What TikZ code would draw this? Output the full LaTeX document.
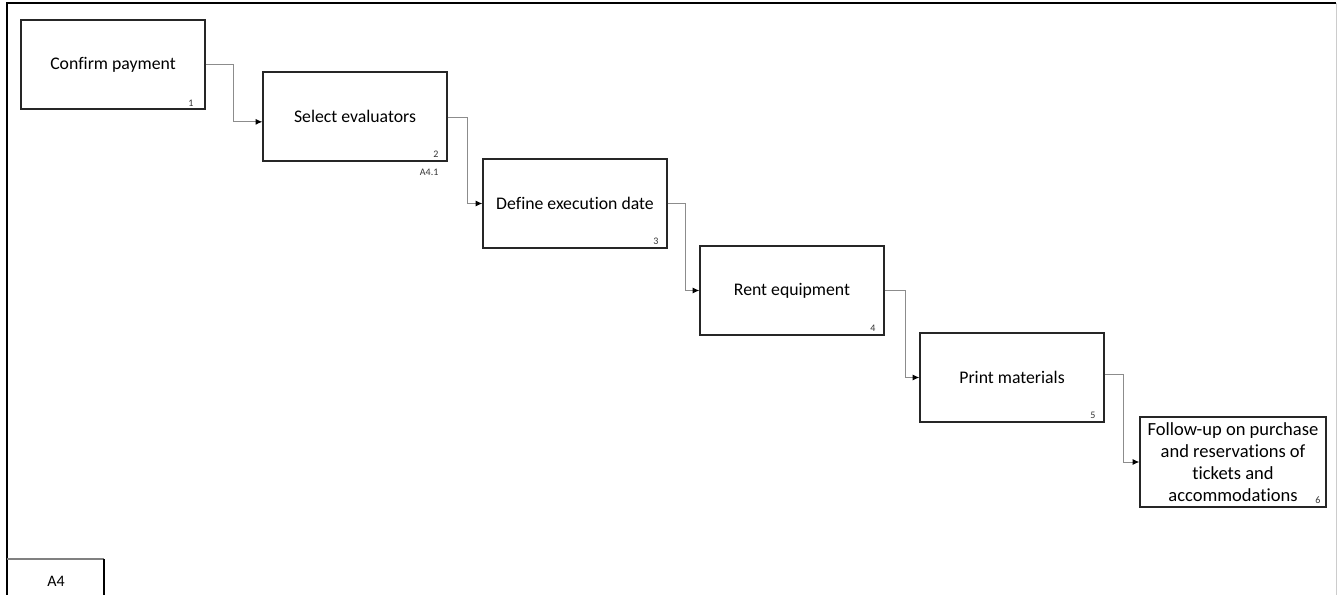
\documentclass[tikz,border=0pt]{standalone}
\usepackage{fontspec}
\setmainfont{Carlito}[Ligatures=CommonOff]
\usetikzlibrary{arrows.meta}

\begin{document}
\begin{tikzpicture}[x=0.75pt,y=-0.75pt,
  proc/.style={draw=black!85, line width=1pt, fill=white,
    minimum width=138pt, minimum height=66.75pt, inner sep=2pt,
    align=center, font=\fontsize{13.3}{16.5}\selectfont},
  num/.style={inner sep=0pt, anchor=south east, text=black!80,
    font=\fontsize{7.5}{8}\selectfont},
  conn/.style={draw=black!45, line width=0.75pt,
    -{Latex[length=5pt,width=4.5pt,black]}}]
  \useasboundingbox (0,0) rectangle (1337,595);

  % page frame
  \draw[black!20, line width=0.75pt] (1336,3) -- (1336,595);
  \draw[black, line width=1.6pt] (7,595) -- (7,3) -- (1336,3);

  % diagram id tab
  \draw[black!50, line width=1.2pt] (7,559) -- (104,559);
  \draw[black, line width=1pt] (104,559) -- (104,595);
  \node[font=\fontsize{12}{14}\selectfont] (tab) at (56,581) {A4};

  % activities
  \node[proc] (b1) at (113,64.5)  {Confirm payment};
  \node[proc] (b2) at (355,116.5) {Select evaluators};
  \node[proc] (b3) at (575,203.5) {Define execution date};
  \node[proc] (b4) at (792,290.5) {Rent equipment};
  \node[proc] (b5) at (1012,377.5) {Print materials};
  \node[proc, minimum width=139.5pt, minimum height=67.5pt,
    font=\fontsize{13.9}{16.5}\selectfont] (b6) at (1233,462)
    {Follow-up on purchase\\and reservations of\\tickets and\\accommodations};

  % activity numbers
  \node[num] (n1) at ([shift={(-12,-3)}]b1.south east) {1};
  \node[num] (n2) at ([shift={(-9,-4)}]b2.south east) {2};
  \node[num] (n3) at ([shift={(-9,-4)}]b3.south east) {3};
  \node[num] (n4) at ([shift={(-9,-4)}]b4.south east) {4};
  \node[num] (n5) at ([shift={(-9,-4)}]b5.south east) {5};
  \node[num] (n6) at ([shift={(-6,-4)}]b6.south east) {6};
  \node[num, anchor=north east] (ref2) at ([shift={(-9,7)}]b2.south east) {A4.1};

  % flow between activities
  \draw[conn] (b1.east) -- ++(28,0) |- ([yshift=-4pt]b2.west);
  \draw[conn] ([yshift=-0.8pt]b2.east) -- ++(20,0) |- (b3.west);
  \draw[conn] (b3.east) -- ++(18,0) |- (b4.west);
  \draw[conn] (b4.east) -- ++(21,0) |- (b5.west);
  \draw[conn] ([yshift=2pt]b5.east) -- ++(19,0) |- (b6.west);
\end{tikzpicture}
\end{document}
